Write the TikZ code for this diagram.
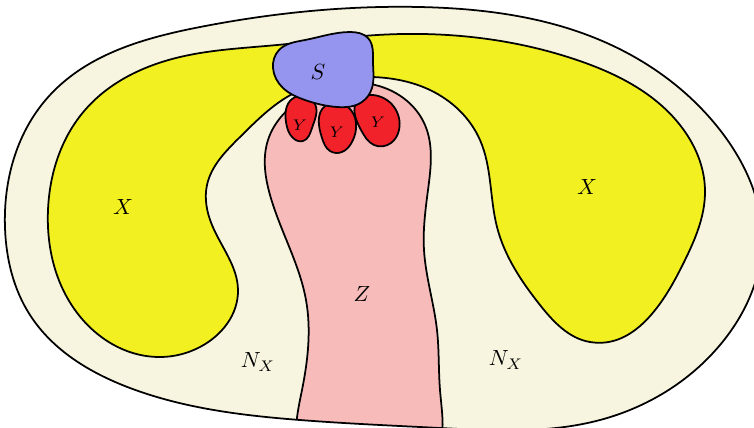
\documentclass[tikz,border=0pt]{standalone}
\usepackage{amsmath}
\usepackage{tikz}
\usetikzlibrary{hobby}

\definecolor{nbhd}{RGB}{247,245,223}
\definecolor{xyellow}{RGB}{242,240,33}
\definecolor{zpink}{RGB}{247,188,185}
\definecolor{yred}{RGB}{242,34,42}
\definecolor{sblue}{RGB}{149,149,240}

\newcommand\outerblob{(5,228) .. (50,95) .. (200,27) .. (420,7) .. (600,40)
  .. (720,130) .. (762,240) .. (720,345) .. (600,420) .. (440,428)
  .. (300,420) .. (130,388) .. (30,315)}

\begin{document}
\begin{tikzpicture}[x=0.016cm,y=-0.016cm,
    blob/.style={use Hobby shortcut,closed=true},
    region/.style={blob,draw=black,line width=0.8pt,line join=round},
    smallY/.style={font=\scriptsize}]
  \useasboundingbox (0,0) rectangle (754,427);
  \clip (0,0) rectangle (754,427);

  % neighbourhood N_X
  \path[blob,fill=nbhd] \outerblob;

  \begin{scope}
    \clip[blob] \outerblob;
    % X
    \path[region,fill=xyellow] (377,35) .. (577,60) .. (680,125)
      .. (705,190) .. (680,270) .. (590,342) .. (540,305) .. (497,227)
      .. (480,140) .. (430,90) .. (373,77) .. (287,97) .. (240,137)
      .. (207,185) .. (212,225) .. (238,290) .. (200,347) .. (160,357)
      .. (75,310) .. (48,210) .. (85,110) .. (180,57) .. (277,45);
    % Z
    \path[region,fill=zpink] (299,450) .. (302,390) .. (306,300)
      .. (270,195) .. (268,140) .. (300,100) .. (385,88) .. (425,125)
      .. (428,190) .. (424,250) .. (437,330) .. (440,390) .. (439,450);
  \end{scope}

  % Y
  \path[region,fill=yred] (292,99) .. (286,122) .. (293,138) .. (303,141)
    .. (312,128) .. (315,104);
  \path[region,fill=yred] (325,106) .. (322,138) .. (330,151) .. (342,152)
    .. (352,142) .. (348,107);
  \path[region,fill=yred] (358,100) .. (361,130) .. (374,145) .. (391,143)
    .. (399,130) .. (373,95);

  % S
  \path[region,fill=sblue] (279,50) .. (305,40) .. (350,32) .. (368,38)
    .. (373,62) .. (372,88) .. (362,102) .. (337,107) .. (305,100)
    .. (283,88) .. (273,68);

  \draw[blob,line width=0.8pt] \outerblob;

  \node (sLab) at (318,72) {$S$};
  \node[smallY] (y1) at (300,125) {$Y$};
  \node[smallY] (y2) at (337,132) {$Y$};
  \node[smallY] (y3) at (378,122) {$Y$};
  \node (xLeft) at (123,207) {$X$};
  \node (xRight) at (587,187) {$X$};
  \node (zLab) at (362,294) {$Z$};
  \node (nLeft) at (258,362) {$N_X$};
  \node (nRight) at (506,360) {$N_X$};
\end{tikzpicture}
\end{document}
